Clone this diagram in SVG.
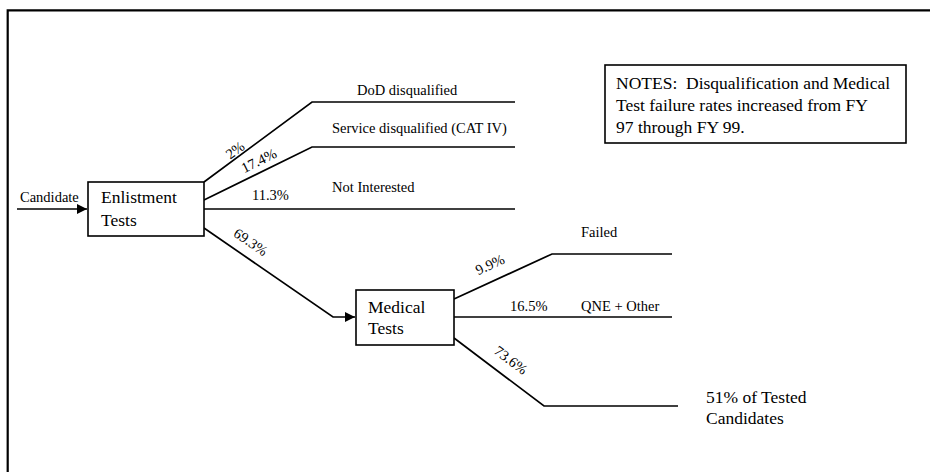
<svg xmlns="http://www.w3.org/2000/svg" width="930" height="472" viewBox="0 0 930 472">
  <style>
    .frame { fill: none; stroke: #000; stroke-width: 2.2; }
    .box { fill: #fff; stroke: #000; stroke-width: 1.6; }
    .wire { fill: none; stroke: #000; stroke-width: 1.7; }
    text { font-family: "Liberation Serif", "DejaVu Serif", serif; fill: #000; }
    .lbl { font-family: "Liberation Serif", "DejaVu Serif", serif; font-size: 14.5px; }
    .big { font-family: "Liberation Serif", "DejaVu Serif", serif; font-size: 17.5px; }
  </style>
  <defs>
    <marker id="arrow" viewBox="0 0 10 10" refX="10" refY="5" markerWidth="10" markerHeight="12" markerUnits="userSpaceOnUse" orient="auto">
      <path d="M0,0 L10,5 L0,10 Z" fill="#000"/>
    </marker>
  </defs>
  <rect width="930" height="472" fill="#fff"/>

  <!-- outer frame (top and left edges) -->
  <path class="frame" d="M7.7,472 V10.3 H930"/>

  <!-- connectors -->
  <g id="connectors">
    <path class="wire" d="M17,209 H87" marker-end="url(#arrow)"/>
    <path class="wire" d="M204,182 L312,102 H515"/>
    <path class="wire" d="M204,200 L312,147 H515"/>
    <path class="wire" d="M204,209 H515"/>
    <path class="wire" d="M204,228 L333,317 H355" marker-end="url(#arrow)"/>
    <path class="wire" d="M454,299 L552,254 H672"/>
    <path class="wire" d="M454,317 H672"/>
    <path class="wire" d="M454,338 L544,406 H678"/>

    <text class="lbl" x="20" y="202">Candidate</text>
    <text class="lbl" x="357" y="95">DoD disqualified</text>
    <text class="lbl" x="332" y="133">Service disqualified (CAT IV)</text>
    <text class="lbl" x="332" y="192">Not Interested</text>
    <text class="lbl" x="252" y="200">11.3%</text>
    <text class="lbl" text-anchor="middle" transform="translate(238,154) rotate(-36.5)">2%</text>
    <text class="lbl" text-anchor="middle" transform="translate(261,165) rotate(-26)">17.4%</text>
    <text class="lbl" text-anchor="middle" transform="translate(248,246) rotate(34.5)">69.3%</text>

    <text class="lbl" x="581" y="237">Failed</text>
    <text class="lbl" x="581" y="311">QNE + Other</text>
    <text class="lbl" x="510" y="311">16.5%</text>
    <text class="lbl" text-anchor="middle" transform="translate(492,269) rotate(-24.7)">9.9%</text>
    <text class="lbl" text-anchor="middle" transform="translate(508,364) rotate(36.6)">73.6%</text>
  </g>

  <g id="enlistment-tests">
    <rect class="box" x="88" y="182" width="116" height="54"/>
    <text class="big" x="101" y="203">Enlistment</text>
    <text class="big" x="101" y="226">Tests</text>
  </g>

  <g id="medical-tests">
    <rect class="box" x="356" y="290" width="98" height="55"/>
    <text class="big" x="368" y="313">Medical</text>
    <text class="big" x="368" y="334">Tests</text>
  </g>

  <g id="tested-candidates">
    <text class="big" x="706" y="403">51% of Tested</text>
    <text class="big" x="706" y="424">Candidates</text>
  </g>

  <g id="notes">
    <rect class="box" x="605" y="65" width="301" height="78"/>
    <text class="big" x="616" y="89" xml:space="preserve">NOTES:  Disqualification and Medical</text>
    <text class="big" x="616" y="111">Test failure rates increased from FY</text>
    <text class="big" x="616" y="133">97 through FY 99.</text>
  </g>
</svg>
